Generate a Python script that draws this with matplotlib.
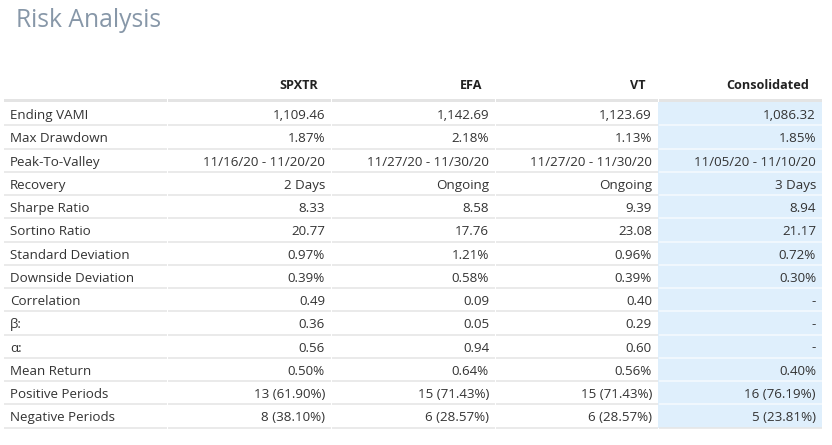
import matplotlib
matplotlib.use("Agg")
import matplotlib.pyplot as plt
from matplotlib.patches import Rectangle

title = "Risk Analysis"
columns = ["SPXTR", "EFA", "VT", "Consolidated"]
metrics = ["Ending VAMI", "Max Drawdown", "Peak-To-Valley", "Recovery", "Sharpe Ratio",
           "Sortino Ratio", "Standard Deviation", "Downside Deviation", "Correlation",
           "β:", "α:", "Mean Return", "Positive Periods", "Negative Periods"]
spxtr = ["1,109.46", "1.87%", "11/16/20 - 11/20/20", "2 Days", "8.33", "20.77", "0.97%",
         "0.39%", "0.49", "0.36", "0.56", "0.50%", "13 (61.90%)", "8 (38.10%)"]
efa = ["1,142.69", "2.18%", "11/27/20 - 11/30/20", "Ongoing", "8.58", "17.76", "1.21%",
       "0.58%", "0.09", "0.05", "0.94", "0.64%", "15 (71.43%)", "6 (28.57%)"]
vt = ["1,123.69", "1.13%", "11/27/20 - 11/30/20", "Ongoing", "9.39", "23.08", "0.96%",
      "0.39%", "0.40", "0.29", "0.60", "0.56%", "15 (71.43%)", "6 (28.57%)"]
consolidated = ["1,086.32", "1.85%", "11/05/20 - 11/10/20", "3 Days", "8.94", "21.17", "0.72%",
                "0.30%", "-", "-", "-", "0.40%", "16 (76.19%)", "5 (23.81%)"]
data_cols = [spxtr, efa, vt, consolidated]

W, H = 832, 445
fig = plt.figure(figsize=(W / 100, H / 100), dpi=100)
ax = fig.add_axes([0, 0, 1, 1])
ax.set_xlim(0, W)
ax.set_ylim(H, 0)
ax.axis("off")

font = ["Open Sans", "DejaVu Sans"]
txt_color = "#333333"
fs = 9.6
fs_head = 9.1

col_edges = [3, 167, 331, 495, 658, 822]
row_top = 102.1
row_h = 23.25
n = len(metrics)

# consolidated background
ax.add_patch(Rectangle((col_edges[4], row_top), col_edges[5] - col_edges[4], n * row_h,
                       facecolor="#dfeffc", edgecolor="none", zorder=0))

# title
ax.text(16, 27, title, fontsize=17.7, color="#8797a8", family=font, va="baseline", ha="left")

# header
for j, c in enumerate(columns):
    ax.text(col_edges[j + 2] - 13, 89, c, fontsize=fs_head, fontweight="bold", color="#222222",
            family=font, va="baseline", ha="right")

# header line
for j in range(5):
    ax.add_patch(Rectangle((col_edges[j] + 0.5, 98.5), col_edges[j + 1] - col_edges[j] - 1, 3,
                           facecolor="#e4e4e4", edgecolor="none", zorder=1))

# rows
for i, m in enumerate(metrics):
    cy = row_top + (i + 0.5) * row_h
    by = cy + 5.3
    ax.text(10, by, m, fontsize=fs, color=txt_color, family=font, va="baseline", ha="left")
    for j, col in enumerate(data_cols):
        ax.text(col_edges[j + 2] - 6, by, col[i], fontsize=fs, color=txt_color, family=font,
                va="baseline", ha="right")
    ly = row_top + (i + 1) * row_h
    for j in range(5):
        lc = "#f4f9fe" if (j == 4 and i < n - 1) else "#e6e6e6"
        ax.plot([col_edges[j] + 0.5, col_edges[j + 1] - 0.5], [ly, ly], color=lc,
                lw=1.2, solid_capstyle="butt", zorder=2)

fig.savefig("out.png", dpi=100, facecolor="white")
